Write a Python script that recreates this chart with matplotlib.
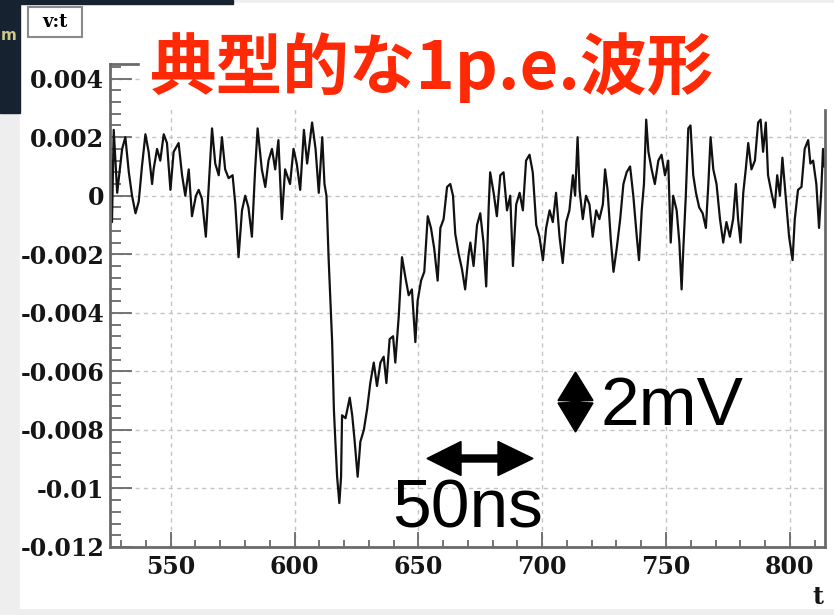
import matplotlib
matplotlib.use("Agg")
import matplotlib.pyplot as plt
from matplotlib.patches import Rectangle, Polygon
from matplotlib.ticker import MultipleLocator
import numpy as np

W, H = 834, 615

# waveform: time in ns, amplitude in mV
t_ns = [525.5, 526.3, 527.0, 528.4, 530.4, 531.7, 533.1, 534.4, 535.8, 537.1,
        538.4, 539.8, 541.1, 542.5, 543.1, 544.5, 545.8, 547.2, 548.5, 549.9,
        551.2, 553.2, 554.6, 555.9, 557.3, 558.6, 560.2, 561.3, 562.6, 564.2,
        565.3, 566.7, 568.0, 569.4, 570.7, 572.0, 573.4, 575.0, 576.1, 577.4,
        578.8, 580.1, 581.4, 582.8, 584.1, 585.1, 586.8, 588.2, 589.5, 590.9,
        592.2, 593.5, 594.9, 596.2, 598.2, 599.6, 600.9, 602.3,
        603.8, 605.1, 607.1, 608.5, 609.8, 611.2, 612.1, 612.9, 613.8, 615.2,
        615.9, 616.5, 617.2, 618.1,
        618.8, 619.2, 620.6, 622.3, 623.3, 624.2, 625.5, 626.6, 628.0, 629.3,
        630.6, 632.0, 633.3, 634.7, 636.0, 637.1, 638.4, 639.8, 640.7, 642.1,
        643.4, 644.8, 646.1, 647.4, 648.8, 649.7, 651.1, 652.4, 653.8, 655.1,
        656.4, 657.8, 658.9, 660.2, 661.6, 662.9, 664.0, 664.9, 666.3, 667.6,
        668.9, 670.3, 671.0,
        672.3, 673.7, 675.0, 676.3, 677.4, 678.4, 679.0, 680.4, 681.7, 683.1,
        684.4, 685.8, 687.1, 688.2, 689.5, 690.9, 692.2, 693.5, 694.9, 696.2,
        697.6, 698.9, 700.3, 701.6, 703.0, 704.3, 705.6, 707.0, 708.3, 709.7,
        711.0, 712.4, 713.3, 714.3, 715.1, 716.4, 717.7, 719.1, 720.4, 721.8,
        723.1, 724.5, 725.4, 726.4, 727.7, 728.8, 730.1, 731.5, 732.8, 734.1,
        735.5, 736.8, 738.2, 739.1, 740.2, 741.1,
        742.0, 742.9, 744.2, 745.5, 746.9, 748.2, 749.6, 750.9, 751.9, 752.9,
        754.3, 755.4, 756.3, 757.0, 758.0, 759.0, 759.9, 761.0, 762.1, 763.4,
        764.8, 766.1, 767.1, 768.0, 769.1, 770.4, 771.8, 773.1, 774.4, 775.8,
        777.1, 778.2, 779.1, 780.1, 781.2, 782.2, 783.2, 784.5, 785.9, 787.2,
        788.2, 789.2, 790.3, 791.2, 792.6, 793.9, 794.9, 796.0, 797.0, 798.4,
        799.7, 801.1, 802.0, 803.3, 804.7, 806.0, 807.4, 808.3, 809.4, 810.7,
        811.8, 812.7, 813.4, 814.0]

v_mV = [1.5, -0.9, 2.25, 0.1, 1.6, 2.0, 0.8, 0.0, -0.6, -0.2,
        1.0, 2.1, 1.5, 0.4, 0.9, 1.6, 1.2, 2.1, 1.8, 0.2,
        1.5, 1.8, 0.7, 0.0, 0.9, -0.7, 0.0, 0.2, -0.1, -1.4,
        0.2, 2.3, 1.1, 0.7, 2.0, 0.9, 0.6, 0.7, -0.3, -2.1,
        -0.5, 0.0, -0.4, -1.4, 0.9, 2.3, 0.9, 0.3, 1.2, 1.6,
        0.9, 1.9, -0.8, 0.9, 0.4, 1.6, 1.1, 0.2,
        2.25, 1.1, 2.5, 1.6, 0.1, 2.0, 0.4, 0.0, -2.2, -5.0,
        -7.3, -8.4, -9.6, -10.5,
        -9.6, -7.5, -7.6, -6.9, -7.5, -8.3, -9.6, -8.4, -8.0, -7.3,
        -6.4, -5.7, -6.5, -5.7, -5.5, -6.4, -4.9, -4.8, -5.7, -4.1,
        -2.1, -2.8, -3.4, -3.2, -5.0, -3.6, -2.9, -2.6, -0.7, -1.1,
        -1.8, -2.9, -1.1, -0.8, 0.3, 0.4, 0.0, -1.3, -2.0, -2.5,
        -3.2, -2.0, -1.6,
        -2.4, -1.0, -0.6, -1.6, -3.1, -0.4, 0.8, 0.1, -0.7, 0.7,
        0.8, -0.5, 0.0, -2.4, -0.3, 0.1, -0.5, 1.2, 1.4, 0.8,
        -1.0, -1.4, -2.2, -1.1, -0.5, -0.9, 0.1, -1.4, -2.3, -0.9,
        -0.5, 0.7, 0.0, 2.0, 0.2, -0.8, 0.0, -0.3, -1.4, -0.5,
        -0.8, -0.3, 0.9, 0.2, -1.5, -2.6, -1.8, -0.8, 0.4, 0.8,
        1.0, 0.0, -1.4, -2.2, -0.5, 0.4,
        2.6, 1.5, 0.9, 0.4, 1.2, 1.4, 0.7, 1.2, -1.6, 0.0,
        -0.5, -1.6, -3.2, -1.8, 0.0, 2.3, 2.4, 0.7, 0.1, -0.4,
        -0.6, -1.1, 0.4, 2.0, 0.9, 0.4, -0.8, -1.6, -0.9, -1.4,
        -0.8, 0.4, -0.8, -1.6, 0.1, 0.9, 1.8, 0.9, 1.2, 2.5,
        2.6, 1.5, 2.5, 0.7, 0.1, -0.4, 0.7, 0.0, 1.3, -0.1,
        -1.4, -2.2, -0.8, 0.2, 0.3, 1.6, 1.9, 1.1, 1.2, 0.4,
        -1.1, 0.2, 1.6, 1.0]

x_ticks = [550, 600, 650, 700, 750, 800]
y_ticks = [0.004, 0.002, 0.0, -0.002, -0.004, -0.006, -0.008, -0.01, -0.012]
y_tick_labels = ["0.004", "0.002", "0", "-0.002", "-0.004", "-0.006",
                 "-0.008", "-0.01", "-0.012"]

title_text = "典型的な1p.e.波形"
hist_name = "v:t"
x_name = "t"
t_scale_text = "50ns"
v_scale_text = "2mV"

fig = plt.figure(figsize=(W / 100, H / 100), dpi=100)

# background of the screenshot (pixel coords, y down)
bg = fig.add_axes([0, 0, 1, 1], zorder=0)
bg.set_xlim(0, W)
bg.set_ylim(H, 0)
bg.axis("off")
bg.add_patch(Rectangle((0, 0), W, H, color="#eeeeee"))
bg.add_patch(Rectangle((20, 3), W - 20, 605, color="white"))
bg.add_patch(Rectangle((0, 0), 233, 3.5, color="#172230"))
bg.add_patch(Rectangle((0, 0), 20, 113, color="#172230"))
bg.text(1, 40, "m", color="#cfc88a", fontsize=11, fontweight="bold")

# main plot frame
ax = fig.add_axes([110 / W, (H - 547) / H, 715 / W, (547 - 64) / H], zorder=2)
ax.set_facecolor("white")
ax.plot(np.array(t_ns), np.array(v_mV) * 1e-3, color="#111111", lw=1.6)

ax.set_xlim(525.5, 814.2)
ax.set_ylim(-0.012, 0.0045)
ax.set_xticks(x_ticks)
ax.set_xticklabels([str(x) for x in x_ticks])
ax.xaxis.set_minor_locator(MultipleLocator(10))
ax.set_yticks(y_ticks)
ax.set_yticklabels(y_tick_labels)
ax.yaxis.set_minor_locator(MultipleLocator(0.0004))

ax.grid(True, which="major", color="#c4c4c4", linestyle=(0, (3, 3)), lw=1.0)
ax.tick_params(axis="both", which="both", direction="in", color="#6a6a6a", width=1.3)
ax.tick_params(axis="y", which="major", length=16, pad=4)
ax.tick_params(axis="y", which="minor", length=8)
ax.tick_params(axis="x", which="major", length=10.5, pad=6)
ax.tick_params(axis="x", which="minor", length=5.3)
for lab in ax.get_xticklabels() + ax.get_yticklabels():
    lab.set_fontfamily("DejaVu Serif")
    lab.set_fontweight("bold")
    lab.set_fontsize(17)
    lab.set_color("#151515")
for side in ["left", "bottom", "right", "top"]:
    ax.spines[side].set_color("#6a6a6a")
    ax.spines[side].set_linewidth(2)

# overlay: title box, labels, scale arrows
fg = fig.add_axes([0, 0, 1, 1], zorder=3)
fg.set_xlim(0, W)
fg.set_ylim(H, 0)
fg.axis("off")
fg.patch.set_alpha(0)

fg.add_patch(Rectangle((140, 20), W - 140, 88, color="white"))
fg.text(432, 68, title_text, color="#ff2a05", fontsize=48, fontweight="bold",
        family=["Noto Sans CJK JP", "DejaVu Sans"], ha="center", va="center")

fg.add_patch(Rectangle((28, 7), 54, 30, facecolor="white", edgecolor="#8a8a8a", lw=1.5))
fg.text(55, 22, hist_name, fontfamily="DejaVu Serif", fontweight="bold",
        fontsize=13, ha="center", va="center")

fg.text(818, 597, x_name, fontfamily="DejaVu Serif", fontweight="bold",
        fontsize=17, ha="center", va="center", color="#151515")

# 50ns horizontal double arrow
harrow = [(427, 458.5), (461, 441.5), (461, 455), (498, 455), (498, 441.5),
          (533, 458.5), (498, 475.5), (498, 462), (461, 462), (461, 475.5)]
fg.add_patch(Polygon(harrow, closed=True, color="black"))
fg.text(392, 528, t_scale_text, fontfamily="Liberation Sans", fontsize=50,
        ha="left", va="baseline", color="black")

# 2mV vertical double arrow
varrow = [(575.5, 372), (593, 400.5), (580, 401), (580, 402.5), (593, 403),
          (575.5, 432), (558, 403), (571, 402.5), (571, 401), (558, 400.5)]
fg.add_patch(Polygon(varrow, closed=True, color="black"))
fg.text(601, 425, v_scale_text, fontfamily="Liberation Sans", fontsize=50,
        ha="left", va="baseline", color="black")

fig.savefig("out.png", dpi=100)
